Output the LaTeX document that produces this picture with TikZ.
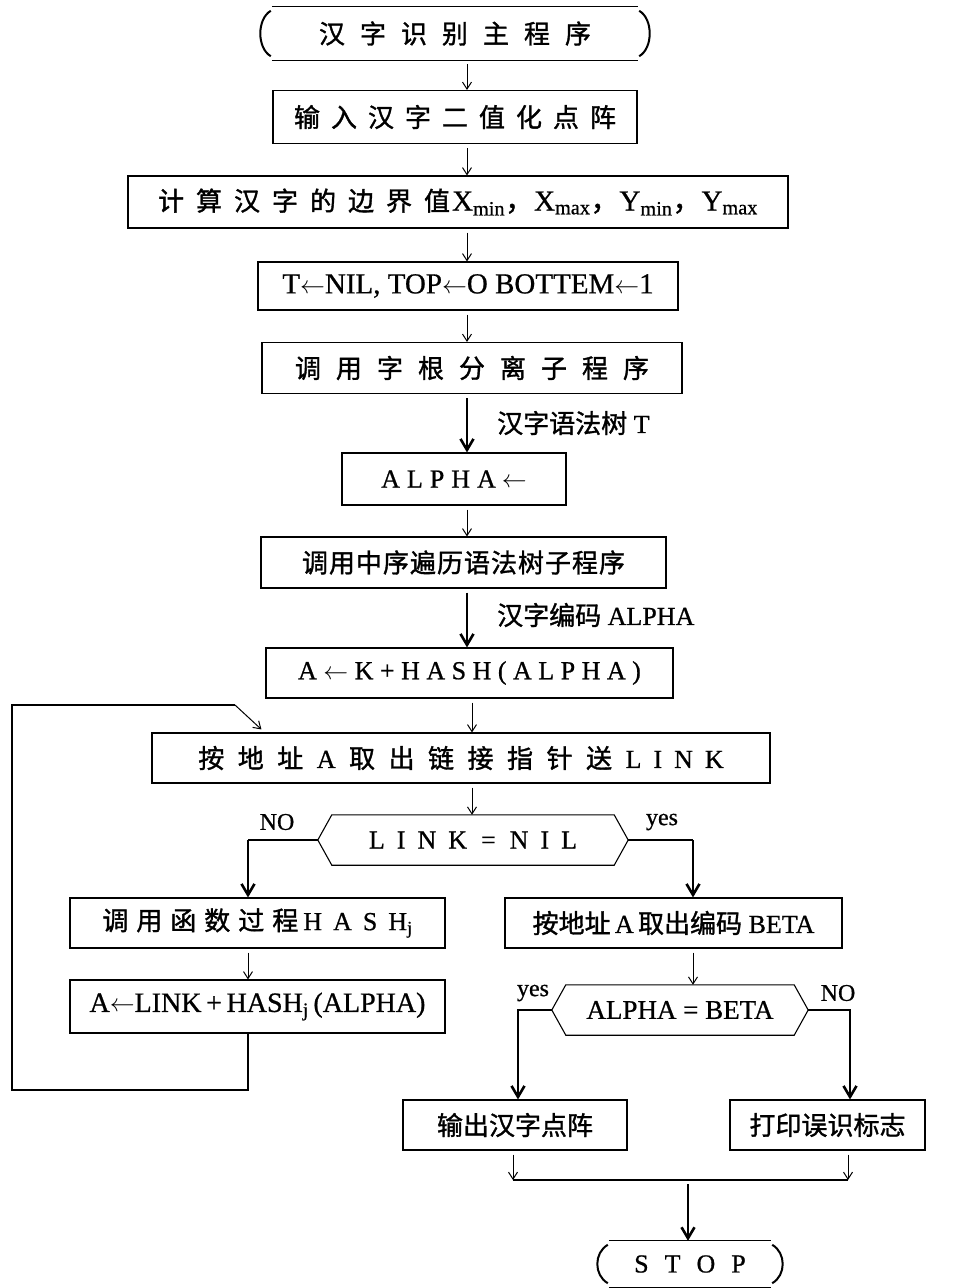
\documentclass[tikz,border=0pt]{standalone}
\usepackage{fontspec}
\setmainfont[FakeBold=0.7]{Liberation Serif}
\newfontfamily\cjk[FakeBold=1.3]{Noto Sans CJK SC}
\usetikzlibrary{arrows.meta}
\makeatletter
\newcommand\spread[2]{\def\spr@first{1}\@tfor\spr@c:=#2\do{\ifx\spr@first\empty\hspace{#1}\fi\def\spr@first{}\spr@c}}
\makeatother
\newcommand\drawterm[1]{%
 \draw[ln] (#1.north west) -- (#1.north east) (#1.south west) -- (#1.south east);
 \draw[parenln] ([xshift=-1pt,yshift=-4pt]#1.north west) .. controls ([xshift=-15pt,yshift=-12pt]#1.north west) and ([xshift=-15pt,yshift=12pt]#1.south west) .. ([xshift=-1pt,yshift=4pt]#1.south west);
 \draw[parenln] ([xshift=1pt,yshift=-4pt]#1.north east) .. controls ([xshift=15pt,yshift=-12pt]#1.north east) and ([xshift=15pt,yshift=12pt]#1.south east) .. ([xshift=1pt,yshift=4pt]#1.south east);}
\newcommand\drawdec[1]{%
 \draw[ln] ([xshift=14pt]#1.north west) -- ([xshift=-14pt]#1.north east) -- (#1.east) -- ([xshift=-14pt]#1.south east) -- ([xshift=14pt]#1.south west) -- (#1.west) -- cycle;}
\begin{document}
\begin{tikzpicture}[x=1pt,y=-1pt,
  ln/.style={line width=1.1pt},
  parenln/.style={line width=2pt},
  box/.style={draw, line width=1.1pt, inner sep=0pt, font=\fontsize{26}{30}\selectfont},
  plain/.style={inner sep=0pt, font=\fontsize{26}{30}\selectfont},
  thinarr/.style={line width=1pt, shorten <=4pt, -{Straight Barb[length=7pt,width=9pt]}},
  thickarr/.style={line width=2.6pt, shorten <=4pt, -{Straight Barb[length=11pt,width=13pt]}},
  lab/.style={font=\fontsize{26}{30}\selectfont, anchor=west, inner sep=0pt},
  yn/.style={font=\fontsize{24}{26}\selectfont, inner sep=0pt}]
\fill[white] (0,0) rectangle (956,1288);
\useasboundingbox (0,0) rectangle (956,1288);

\coordinate (mx) at (467,0);
\coordinate (mx2) at (472,0);
\coordinate (lx) at (248,0);
\coordinate (rx) at (693,0);

% main column
\node[plain, minimum width=366, minimum height=53] (start) at (455,33.5) {{\cjk\spread{15pt}{汉字识别主程序}}};
\drawterm{start}
\node[box, minimum width=364, minimum height=53] (b1) at (455,117) {{\cjk\spread{11pt}{输入汉字二值化点阵}}};
\node[box, minimum width=660, minimum height=52] (b2) at (458,202) {{\cjk\spread{12pt}{计算汉字的边界值}}\hspace{2pt}{\fontsize{29}{30}\selectfont X\textsubscript{min}{\cjk ，}X\textsubscript{max}{\cjk ，}Y\textsubscript{min}{\cjk ，}Y\textsubscript{max}}};
\node[box, minimum width=420, minimum height=48, font=\fontsize{29}{30}\selectfont] (b3) at (468,286) {T$\leftarrow$NIL, TOP$\leftarrow$O BOTTEM$\leftarrow$1};
\node[box, minimum width=420, minimum height=51] (b4) at (472,368) {{\cjk\spread{15pt}{调用字根分离子程序}}};
\node[lab] (l1) at (497,423) {{\cjk 汉字语法树} T};
\node[box, minimum width=224, minimum height=52] (b5) at (454,479) {\spread{7pt}{ALPHA}\hspace{6pt}$\leftarrow$};
\node[box, minimum width=405, minimum height=51] (b6) at (463.5,562.5) {{\cjk\spread{1pt}{调用中序遍历语法树子程序}}};
\node[lab] (l2) at (497,615) {{\cjk 汉字编码} ALPHA};
\node[box, minimum width=407, minimum height=50] (b7) at (469.5,673) {\spread{6.5pt}{A{$\leftarrow$}K+HASH(ALPHA)}};
\node[box, minimum width=618, minimum height=50] (b8) at (461,758) {{\cjk\spread{13.5pt}{按地址}}\hspace{13.5pt}A\hspace{13.5pt}{\cjk\spread{13.5pt}{取出链接指针送}}\hspace{13.5pt}\spread{12pt}{LINK}};
\node[plain, minimum width=310, minimum height=50] (d1) at (473,840) {\spread{12pt}{LINK}\hspace{14pt}=\hspace{14pt}\spread{12pt}{NIL}};
\drawdec{d1}

% left branch
\node[box, minimum width=375, minimum height=50] (b9) at (257.5,923) {{\cjk\spread{8pt}{调用函数过程}}\hspace{5pt}\spread{11pt}{HASH}\textsubscript{j}};
\node[box, minimum width=375, minimum height=53, font=\fontsize{28}{30}\selectfont] (b10) at (257.5,1006.5) {A$\leftarrow$LINK\,+\,HASH\textsubscript{j}\,(ALPHA)};

% right branch
\node[box, minimum width=337, minimum height=50] (b11) at (673.5,923) {{\cjk 按地址}\,A\,{\cjk 取出编码} BETA};
\node[plain, minimum width=256, minimum height=50, font=\fontsize{27}{30}\selectfont] (d2) at (680,1010) {ALPHA = BETA};
\drawdec{d2}
\node[box, minimum width=224, minimum height=50] (b12) at (515,1125) {{\cjk 输出汉字点阵}};
\node[box, minimum width=195, minimum height=50] (b13) at (827.5,1125) {{\cjk 打印误识标志}};
\node[plain, minimum width=162, minimum height=46] (stop) at (690,1264) {\spread{16pt}{STOP}};
\drawterm{stop}

% main arrows
\draw[thinarr] (start.south -| mx) -- (b1.north -| mx);
\draw[thinarr] (b1.south -| mx) -- (b2.north -| mx);
\draw[thinarr] (b2.south -| mx) -- (b3.north -| mx);
\draw[thinarr] (b3.south -| mx) -- (b4.north -| mx);
\draw[thickarr] (b4.south -| mx) -- (b5.north -| mx);
\draw[thinarr] (b5.south -| mx) -- (b6.north -| mx);
\draw[thickarr] (b6.south -| mx) -- (b7.north -| mx);
\draw[thinarr] (b7.south -| mx2) -- (b8.north -| mx2);
\draw[thinarr] (b8.south -| mx2) -- (d1.north -| mx2);

% decision 1
\draw[ln] (d1.west) -- (d1.west -| lx) coordinate (n1);
\draw[thickarr, shorten <=0pt] (n1) -- (b9.north -| lx);
\node[yn] (no1) at (277,822) {NO};
\draw[ln] (d1.east) -- (d1.east -| rx) coordinate (y1);
\draw[thickarr, shorten <=0pt] (y1) -- (b11.north -| rx);
\node[yn] (yes1) at (662,822) {yes};

\draw[thinarr] (b9.south -| lx) -- (b10.north -| lx);
\draw[thinarr] (b11.south -| rx) -- (d2.north -| rx);

% loop back
\coordinate (lp1) at (12,1090);
\coordinate (lp2) at (12,705);
\coordinate (lp3) at (235,705);
\draw[ln] (b10.south -| lx) -- (lx |- lp1) -- (lp1) -- (lp2) -- (lp3);
\draw[thinarr, shorten <=0pt] (lp3) -- ([xshift=110pt,yshift=3pt]b8.north west);

% decision 2
\coordinate (ybr) at (518,1050);
\coordinate (nbr) at (850,1050);
\draw[ln] (d2.west) -- (d2.west -| ybr) -- (ybr);
\draw[thickarr, shorten <=0pt] (ybr) -- (b12.north -| ybr);
\node[yn] (yes2) at (533,993) {yes};
\draw[ln] (d2.east) -- (d2.east -| nbr) -- (nbr);
\draw[thickarr, shorten <=0pt] (nbr) -- (b13.north -| nbr);
\node[yn] (no2) at (838,993) {NO};

% merge
\coordinate (j1) at (513,1180);
\coordinate (j2) at (848,1180);
\coordinate (jm) at (688,1180);
\draw[thinarr] (b12.south -| j1) -- (j1);
\draw[thinarr] (b13.south -| j2) -- (j2);
\draw[ln] (j1) -- (j2);
\draw[thickarr] (jm) -- (stop.north -| jm);
\end{tikzpicture}
\end{document}
